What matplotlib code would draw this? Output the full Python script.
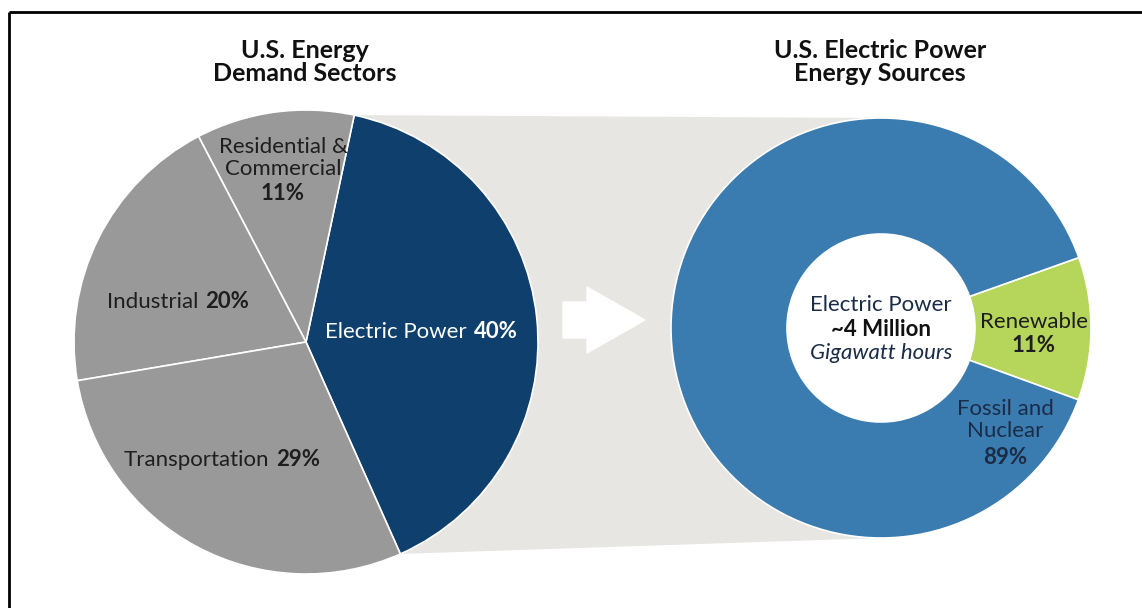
import numpy as np
import matplotlib

matplotlib.use("Agg")
import matplotlib.pyplot as plt
from matplotlib.patches import Polygon, FancyArrow, Circle

plt.rcParams["font.family"] = ["Lato", "DejaVu Sans"]

# left pie: U.S. energy demand sectors (counterclockwise from the Electric Power wedge)
demand_labels = ["Electric Power", "Residential &\nCommercial", "Industrial", "Transportation"]
demand_share = [40, 11, 20, 29]
demand_colors = ["#0f406d", "#999999", "#999999", "#999999"]

# right donut: electric power energy sources
source_labels = ["Renewable", "Fossil and\nNuclear"]
source_share = [11, 89]
source_colors = ["#b6d55b", "#3b7cb0"]

W, H = 1142, 608
fig = plt.figure(figsize=(W / 100, H / 100), dpi=100)
ax = fig.add_axes([0, 0, 1, 1])


def Y(y):
    # image row -> data y
    return H - y


pie_c, pie_r = (306, Y(342)), 232
don_c, don_r, hole_r = (881, Y(328)), 210, 94
start_left = -66

# grey connector band between the electric power wedge and the donut
a1 = np.deg2rad(start_left)
a2 = np.deg2rad(start_left + demand_share[0] / sum(demand_share) * 360)
band = Polygon(
    [
        (pie_c[0] + pie_r * np.cos(a2), pie_c[1] + pie_r * np.sin(a2)),
        (don_c[0], don_c[1] + don_r),
        (don_c[0], don_c[1] - don_r),
        (pie_c[0] + pie_r * np.cos(a1), pie_c[1] + pie_r * np.sin(a1)),
        pie_c,
    ],
    closed=True, facecolor="#e7e6e3", edgecolor="none", zorder=1,
)
ax.add_patch(band)

ax.pie(demand_share, colors=demand_colors, startangle=start_left, counterclock=True,
       center=pie_c, radius=pie_r, frame=True,
       wedgeprops=dict(edgecolor="white", linewidth=1.2, zorder=2))
ax.pie(source_share, colors=source_colors, startangle=-20, counterclock=True,
       center=don_c, radius=don_r, frame=True,
       wedgeprops=dict(width=don_r - hole_r, edgecolor="white", linewidth=1.2, zorder=2))
ax.add_patch(Circle(don_c, hole_r, facecolor="white", edgecolor="none", zorder=2.5))
ax.set_xlim(0, W)
ax.set_ylim(0, H)
ax.set_aspect("equal")
ax.axis("off")

ax.add_patch(FancyArrow(563, Y(320), 82, 0, width=36, head_width=66, head_length=58,
                        length_includes_head=True, color="white", zorder=3))

fs = 16
dark = "#1e1e1e"
navy = "#1b2c47"


def split_label(x, y, name, pct, color, gap=7):
    ax.text(x - gap / 2, Y(y), name, ha="right", va="center", fontsize=fs, color=color, zorder=5)
    ax.text(x + gap / 2, Y(y), pct, ha="left", va="center", fontsize=fs, color=color,
            fontweight="bold", zorder=5)


def pct(v):
    return f"{v}%"


split_label(470, 332, demand_labels[0], pct(demand_share[0]), "white")
split_label(202, 302, demand_labels[2], pct(demand_share[2]), dark)
split_label(273, 460, demand_labels[3], pct(demand_share[3]), dark)

ax.text(283, Y(158), demand_labels[1], ha="center", va="center", fontsize=fs, color=dark,
        linespacing=1.1, zorder=5)
ax.text(283, Y(193), pct(demand_share[1]), ha="center", va="center", fontsize=fs,
        color=dark, fontweight="bold", zorder=5)

# donut labels
ax.text(1034, Y(322), source_labels[0], ha="center", va="center", fontsize=fs, color=dark, zorder=5)
ax.text(1034, Y(346), pct(source_share[0]), ha="center", va="center", fontsize=fs, color=dark,
        fontweight="bold", zorder=5)
ax.text(1005, Y(420), source_labels[1], ha="center", va="center", fontsize=fs, color=navy,
        linespacing=1.1, zorder=5)
ax.text(1005, Y(457), pct(source_share[1]), ha="center", va="center", fontsize=fs, color=navy,
        fontweight="bold", zorder=5)

# hole text
ax.text(881, Y(305), "Electric Power", ha="center", va="center", fontsize=fs, color=navy, zorder=5)
ax.text(881, Y(329), "~4 Million", ha="center", va="center", fontsize=fs, color="#111111",
        fontweight="bold", zorder=5)
ax.text(881, Y(353), "Gigawatt hours", ha="center", va="center", fontsize=fs, color=navy,
        style="italic", zorder=5)

# titles
ax.text(305, Y(62), "U.S. Energy\nDemand Sectors", ha="center", va="center", fontsize=18,
        fontweight="bold", color="#111111", linespacing=1.05)
ax.text(880, Y(62), "U.S. Electric Power\nEnergy Sources", ha="center", va="center", fontsize=18,
        fontweight="bold", color="#111111", linespacing=1.05)

# frame: top and left rules only
ax.plot([9, W], [Y(12), Y(12)], color="black", lw=2, solid_capstyle="butt")
ax.plot([9, 9], [Y(12), 0], color="black", lw=2, solid_capstyle="butt")

fig.savefig("out.png", dpi=100)
